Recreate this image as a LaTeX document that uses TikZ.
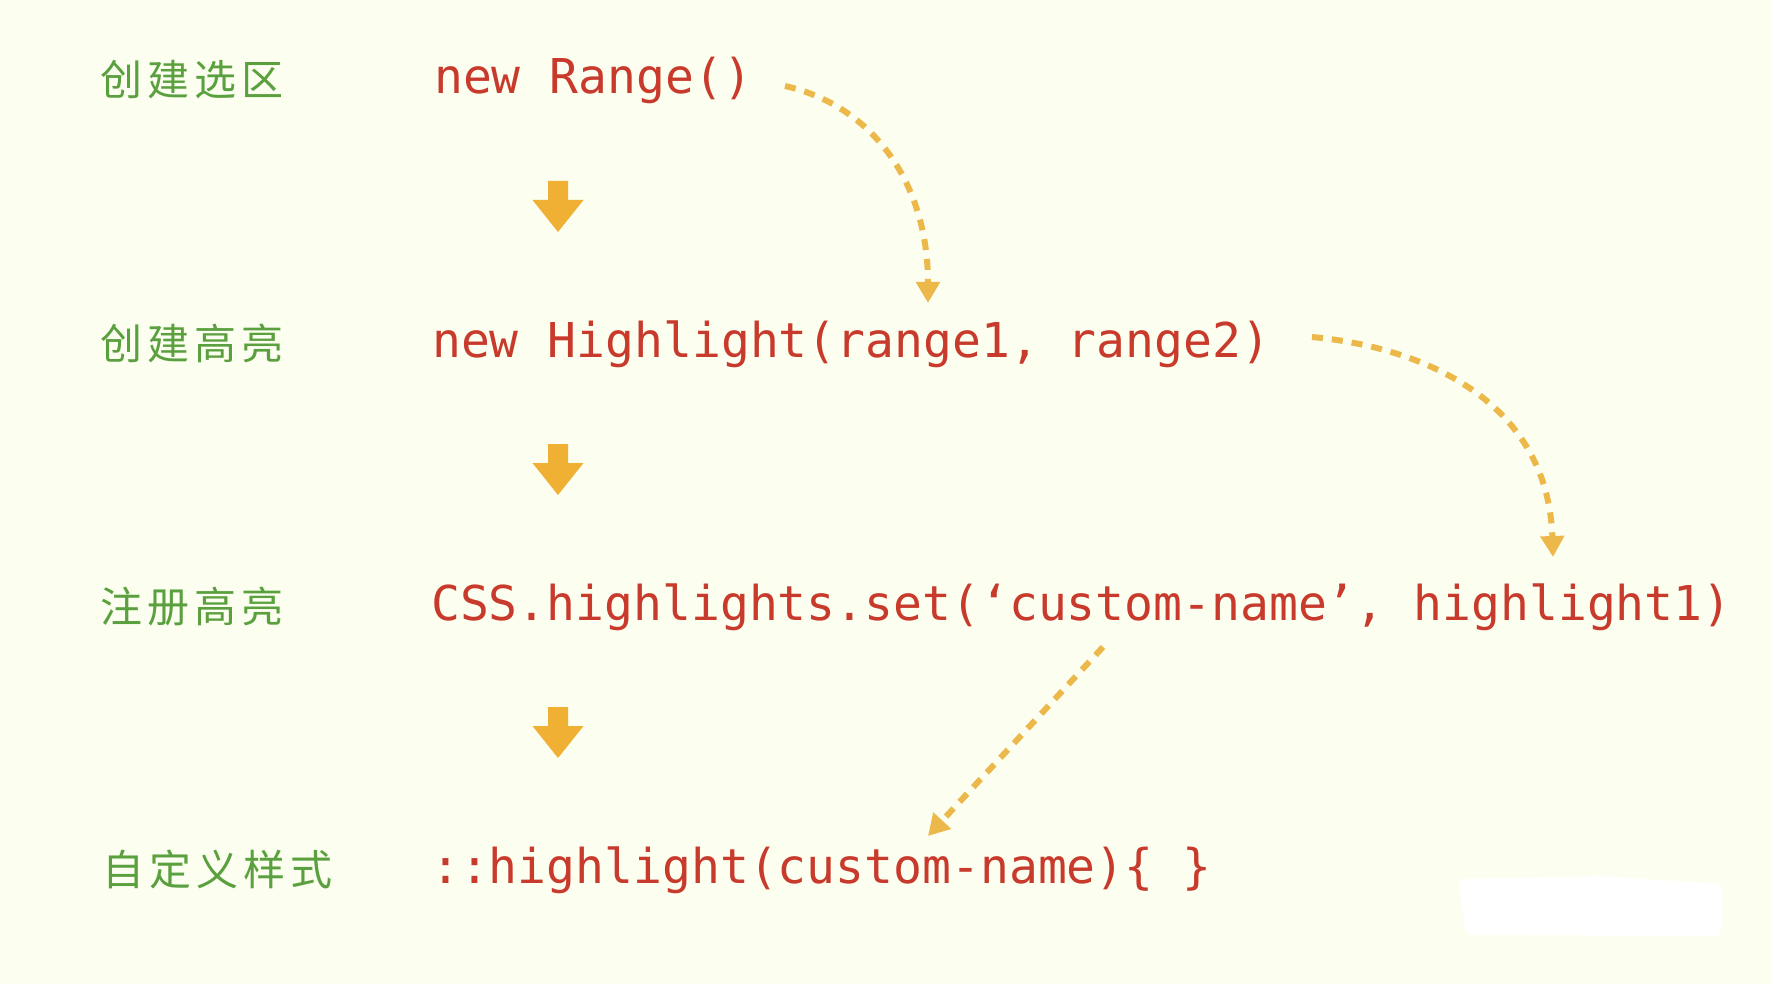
\documentclass[tikz,border=0pt]{standalone}
\usepackage{fontspec}
\usetikzlibrary{arrows.meta}
\newfontfamily\codefont{DejaVu Sans Mono}
\newfontfamily\cjkfont[LetterSpace=12]{Noto Sans CJK SC}
\definecolor{bg}{RGB}{252,254,239}
\definecolor{lblgreen}{RGB}{90,160,62}
\definecolor{codered}{RGB}{200,58,44}
\definecolor{arrorange}{RGB}{240,176,52}
\definecolor{dashorange}{RGB}{236,184,74}
\tikzset{
  label/.style={anchor=base west, inner sep=0pt, text=lblgreen, font=\cjkfont\fontsize{42}{50}\selectfont},
  code/.style={anchor=base west, inner sep=0pt, text=codered, font=\codefont\fontsize{48}{58}\selectfont},
  link/.style={draw=dashorange, line width=6pt, dash pattern=on 11pt off 9pt, -{Triangle[width=23pt,length=21pt]}},
  downarrow/.pic={\fill[arrorange] (-10,0) -- (10,0) -- (10,19) -- (25.5,19) -- (0,51) -- (-25.5,19) -- (-10,19) -- cycle;}
}
\begin{document}
\begin{tikzpicture}[x=1pt,y=-1pt]
\fill[bg] (0,0) rectangle (1772,984);
\useasboundingbox (0,0) rectangle (1772,984);
% erased patch
\fill[white, rounded corners=6pt] (1458,879) -- (1600,876) -- (1722,884) -- (1721,936) -- (1466,935) -- cycle;
% labels
\node[label] (l1) at (100,96) {创建选区};
\node[label] (l2) at (100,359) {创建高亮};
\node[label] (l3) at (100,622) {注册高亮};
\node[label] (l4) at (102,885) {自定义样式};
% code
\node[code] (r1) at (434,94) {new Range()};
\node[code] (r2) at (432,357) {new Highlight(range1, range2)};
\node[code] (r3) at (431,620) {CSS.highlights.set(‘custom-name’, highlight1)};
\node[code] (r4) at (431,883) {::highlight(custom-name)\{ \}};
% block arrows
\pic at (558,181) {downarrow};
\pic at (558,444) {downarrow};
\pic at (558,707) {downarrow};
% dashed links
\coordinate (a1s) at (785,86);
\coordinate (a1e) at (928,303);
\coordinate (a2s) at (1312,337);
\coordinate (a2e) at (1553,557);
\coordinate (a3s) at (1103,647);
\coordinate (a3e) at (928,836);
\draw[link] (a1s) .. controls (870,105) and (928,180) .. (a1e);
\draw[link] (a2s) .. controls (1430,348) and (1548,405) .. (a2e);
\draw[link] (a3s) -- (a3e);
\end{tikzpicture}
\end{document}
